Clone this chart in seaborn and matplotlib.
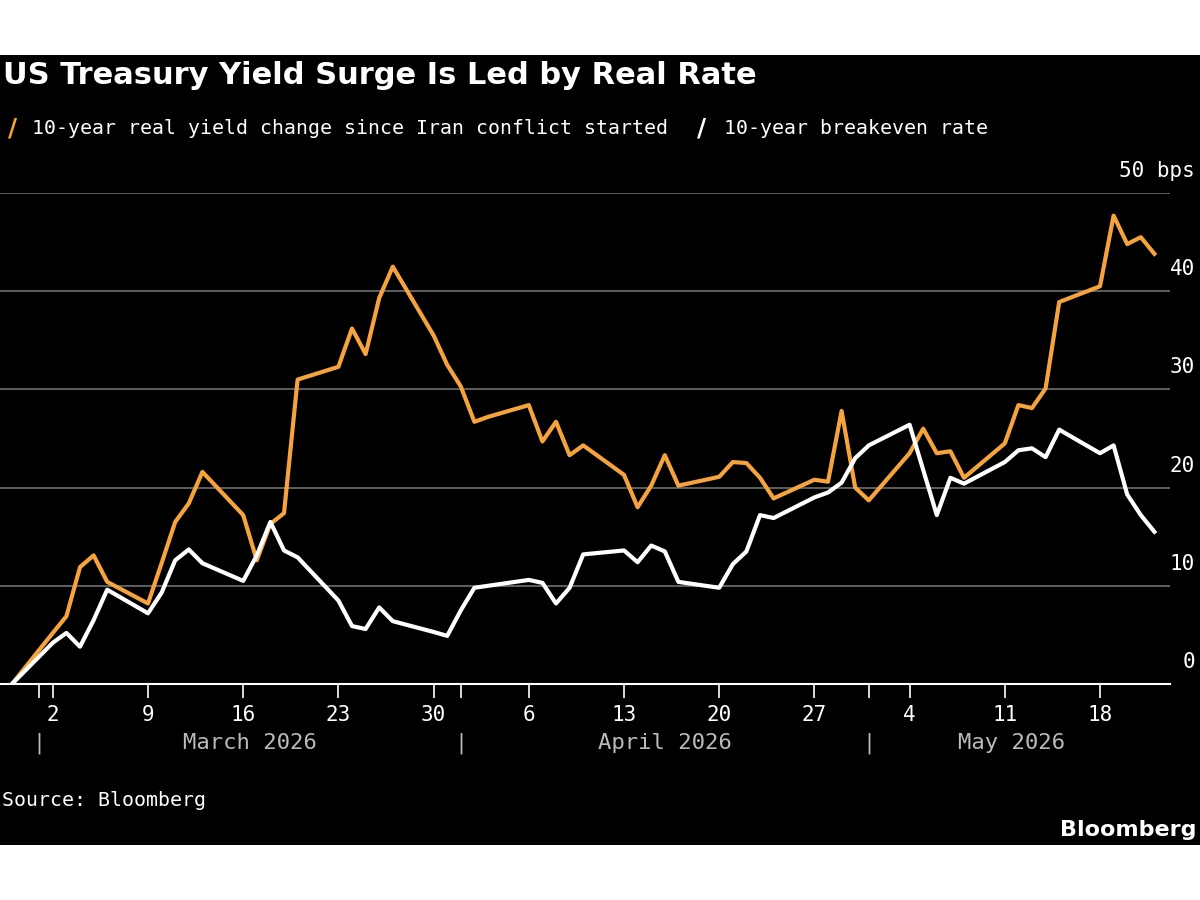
import matplotlib
matplotlib.use("Agg")
import matplotlib.pyplot as plt
import matplotlib.dates as mdates
import seaborn as sns
import pandas as pd
import numpy as np

dates = pd.to_datetime([
 "2026-02-27","2026-03-02","2026-03-03","2026-03-04","2026-03-05","2026-03-06",
 "2026-03-09","2026-03-10","2026-03-11","2026-03-12","2026-03-13",
 "2026-03-16","2026-03-17","2026-03-18","2026-03-19","2026-03-20",
 "2026-03-23","2026-03-24","2026-03-25","2026-03-26","2026-03-27",
 "2026-03-30","2026-03-31","2026-04-01","2026-04-02","2026-04-03",
 "2026-04-06","2026-04-07","2026-04-08","2026-04-09","2026-04-10",
 "2026-04-13","2026-04-14","2026-04-15","2026-04-16","2026-04-17",
 "2026-04-20","2026-04-21","2026-04-22","2026-04-23","2026-04-24",
 "2026-04-27","2026-04-28","2026-04-29","2026-04-30","2026-05-01",
 "2026-05-04","2026-05-05","2026-05-06","2026-05-07","2026-05-08",
 "2026-05-11","2026-05-12","2026-05-13","2026-05-14","2026-05-15",
 "2026-05-18","2026-05-19","2026-05-20","2026-05-21","2026-05-22"])
real_yield = [0, 5.2, 6.9, 11.9, 13.1, 10.4,
              8.2, 12.3, 16.5, 18.4, 21.6,
              17.2, 12.6, 16.3, 17.4, 31.0,
              32.3, 36.2, 33.6, 39.3, 42.5,
              35.5, 32.5, 30.3, 26.7, 27.2,
              28.4, 24.7, 26.7, 23.3, 24.3,
              21.3, 18.0, 20.2, 23.3, 20.2,
              21.1, 22.6, 22.5, 21.0, 18.9,
              20.8, 20.6, 27.8, 20.0, 18.7,
              23.5, 26.0, 23.5, 23.7, 21.0,
              24.5, 28.4, 28.1, 30.1, 38.9,
              40.5, 47.7, 44.8, 45.5, 43.8]
breakeven = [0, 4.2, 5.2, 3.8, 6.5, 9.6,
             7.2, 9.3, 12.6, 13.7, 12.3,
             10.5, 13.1, 16.5, 13.6, 12.9,
             8.5, 5.9, 5.6, 7.8, 6.4,
             5.3, 4.9, 7.5, 9.8, 10.0,
             10.6, 10.3, 8.2, 9.8, 13.2,
             13.6, 12.4, 14.1, 13.5, 10.4,
             9.8, 12.2, 13.5, 17.2, 16.9,
             19.0, 19.5, 20.5, 23.0, 24.3,
             26.4, 21.8, 17.2, 21.0, 20.4,
             22.6, 23.8, 24.0, 23.1, 25.9,
             23.5, 24.3, 19.3, 17.2, 15.5]
yticks = [0, 10, 20, 30, 40, 50]
ytick_labels = ["0", "10", "20", "30", "40", "50 bps"]
day_ticks = ["2026-03-02","2026-03-09","2026-03-16","2026-03-23","2026-03-30",
             "2026-04-06","2026-04-13","2026-04-20","2026-04-27",
             "2026-05-04","2026-05-11","2026-05-18"]
months = ["March 2026", "April 2026", "May 2026"]
month_starts = ["2026-03-01", "2026-04-01", "2026-05-01"]

ORANGE = "#f5a33c"
MONO = "DejaVu Sans Mono"
df = pd.DataFrame({"date": list(dates) * 2,
                   "value": real_yield + breakeven,
                   "series": ["real"] * len(dates) + ["be"] * len(dates)})

fig = plt.figure(figsize=(12, 9), dpi=100, facecolor="white")
bg = fig.add_axes([0, 1 - 845 / 900, 1, (845 - 55) / 900], zorder=-10)
bg.set_facecolor("black")
bg.set_xticks([]); bg.set_yticks([])
for s in bg.spines.values():
    s.set_visible(False)

ax = fig.add_axes([0, 1 - 684 / 900, 1170 / 1200, 491 / 900])
ax.set_facecolor("none")
sns.lineplot(data=df, x="date", y="value", hue="series",
             palette={"real": ORANGE, "be": "white"}, linewidth=3,
             legend=False, ax=ax, zorder=3)

d0 = mdates.date2num(pd.Timestamp("2026-02-27"))
ppd = 13.6
ax.set_xlim(d0 - 12 / ppd, d0 + (1170 - 12) / ppd)
ax.set_ylim(0, 50)
for y in yticks[1:]:
    ax.axhline(y, color="#666666", lw=1.3, zorder=1)
ax.axhline(0, color="white", lw=1.5, zorder=2, clip_on=False)
for s in ax.spines.values():
    s.set_visible(False)
ax.set_yticks([])
ax.set_xlabel(""); ax.set_ylabel("")
ax.set_xticks(pd.to_datetime(day_ticks))
ax.set_xticklabels([str(pd.Timestamp(d).day) for d in day_ticks])
ax.tick_params(axis="x", colors="white", labelsize=15, length=10, width=1.2, pad=5)
for lbl in ax.get_xticklabels():
    lbl.set_family(MONO)
ax.set_xticks(pd.to_datetime(month_starts), minor=True)
ax.tick_params(axis="x", which="minor", colors="white", length=10, width=1.2)

for y, lab in zip(yticks, ytick_labels):
    fy = 1 - (684 - y * 9.82 - 22) / 900
    fig.text(1195 / 1200, fy, lab, color="white", ha="right", va="center", fontsize=15,
             family=MONO)

ms = [mdates.date2num(pd.Timestamp(m)) for m in month_starts]
ends = ms[1:] + [mdates.date2num(pd.Timestamp("2026-05-22"))]
for s, e, m in zip(ms, ends, months):
    ax.text(s, -6.0, "|", color="#bbbbbb", fontsize=15, ha="center", va="center",
            clip_on=False)
    ax.text((s + e) / 2, -6.0, m, color="#bbbbbb", fontsize=16, ha="center", va="center",
            family=MONO, clip_on=False)

fig.text(3 / 1200, 1 - 75 / 900, "US Treasury Yield Surge Is Led by Real Rate",
         color="white", fontsize=22, fontweight="bold", va="center")
fig.text(8 / 1200, 1 - 129 / 900, "/", color=ORANGE, fontsize=18, fontweight="bold", va="center")
fig.text(32 / 1200, 1 - 129 / 900, "10-year real yield change since Iran conflict started",
         color="white", fontsize=14.3, va="center", family=MONO)
fig.text(697 / 1200, 1 - 129 / 900, "/", color="white", fontsize=18, fontweight="bold", va="center")
fig.text(724 / 1200, 1 - 129 / 900, "10-year breakeven rate",
         color="white", fontsize=14.3, va="center", family=MONO)
fig.text(2 / 1200, 1 - 800 / 900, "Source: Bloomberg", color="white", fontsize=14.3,
         va="center", family=MONO)
fig.text(1196 / 1200, 1 - 830 / 900, "Bloomberg", color="white", fontsize=16,
         fontweight="bold", ha="right", va="center")

fig.savefig("out.png", dpi=100, facecolor="white")
